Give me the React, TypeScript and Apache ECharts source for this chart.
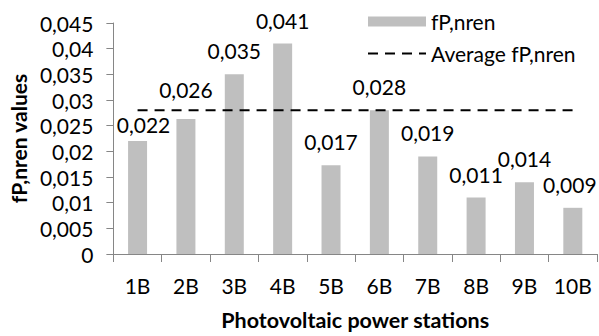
import React, { useEffect, useRef } from "react";
import * as echarts from "echarts";

const categories = ["1B", "2B", "3B", "4B", "5B", "6B", "7B", "8B", "9B", "10B"];
const fpValues = [0.022, 0.0263, 0.035, 0.041, 0.0173, 0.028, 0.019, 0.011, 0.014, 0.009];
const labelTexts = ["0,022", "0,026", "0,035", "0,041", "0,017", "0,028", "0,019", "0,011", "0,014", "0,009"];
const averageValue = 0.028;

const FONT = "Lato";

const fmt = (v: number) => String(+v.toFixed(3)).replace(".", ",");

export default function App() {
  const ref = useRef<HTMLDivElement>(null);
  useEffect(() => {
    if (!ref.current) return;
    const chart = echarts.init(ref.current, undefined, { renderer: "svg" });
    const labelOffsets: Record<number, number[]> = { 0: [6, 7], 1: [0, -6], 9: [-3, 0] };
    chart.setOption({
      animation: false,
      textStyle: { fontFamily: FONT },
      grid: { left: 111, right: 2, top: 23, bottom: 76, containLabel: false },
      legend: {
        orient: "vertical",
        left: 367,
        top: 11,
        padding: 0,
        itemWidth: 58,
        itemHeight: 10,
        itemGap: 11,
        textStyle: { fontSize: 21, color: "#000", fontFamily: FONT },
        data: [
          { name: "fP,nren", icon: "rect" },
          { name: "Average fP,nren", itemStyle: { opacity: 0 } },
        ],
      },
      xAxis: {
        type: "category",
        data: categories,
        boundaryGap: true,
        name: "Photovoltaic power stations",
        nameLocation: "middle",
        nameGap: 55,
        nameTextStyle: { fontSize: 21.5, fontWeight: "bold", color: "#000", fontFamily: FONT },
        axisLine: { lineStyle: { color: "#868686", width: 1 } },
        axisTick: { show: true, length: 8, interval: 0, lineStyle: { color: "#868686" } },
        axisLabel: { fontSize: 21, color: "#000", margin: 21, interval: 0, fontFamily: FONT },
        splitLine: { show: false },
      },
      yAxis: {
        type: "value",
        min: 0,
        max: 0.045,
        interval: 0.005,
        name: "fP,nren values",
        nameLocation: "middle",
        nameRotate: 90,
        nameGap: 72,
        nameTextStyle: { fontSize: 21, fontWeight: "bold", color: "#000", fontFamily: FONT },
        axisLine: { show: true, lineStyle: { color: "#868686", width: 1 } },
        axisTick: { show: true, length: 7, lineStyle: { color: "#868686" } },
        axisLabel: { fontSize: 21, color: "#000", margin: 20, formatter: fmt, fontFamily: FONT },
        splitLine: { show: false },
      },
      series: [
        {
          name: "fP,nren",
          type: "bar",
          barWidth: 19,
          itemStyle: { color: "#bfbfbf" },
          data: fpValues.map((v, i) => ({
            value: v,
            label: {
              show: true,
              position: "top",
              distance: 13,
              offset: labelOffsets[i] || [0, 0],
              formatter: labelTexts[i],
              fontSize: 21,
              color: "#000",
              fontFamily: FONT,
            },
          })),
          z: 1,
        },
        {
          name: "Average fP,nren",
          type: "line",
          symbol: "none",
          showSymbol: false,
          itemStyle: { color: "#000" },
          lineStyle: { color: "#000", width: 2, type: [10, 7] },
          data: categories.map(() => averageValue),
          z: 3,
        },
      ],
    });
    return () => chart.dispose();
  }, []);
  return (
    <div
      ref={ref}
      style={{ position: "fixed", left: 0, top: 0, width: 599, height: 336, background: "#fff" }}
    />
  );
}
